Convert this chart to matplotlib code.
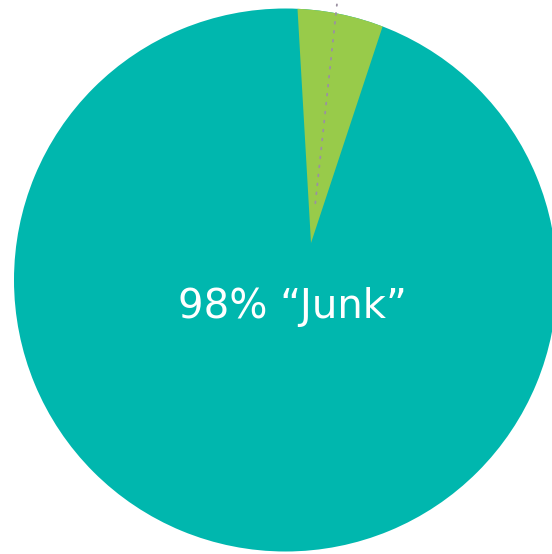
import matplotlib
matplotlib.use("Agg")
import matplotlib.pyplot as plt
import numpy as np

# Data
categories = ["Junk", "Other"]
label_pct = [98, 2]
# visible wedge share (as drawn, measured from the wedge apex)
wedge_share = [6.0, 94.0]
teal = "#00b7ae"
green = "#98cb4a"
dot_color = "#9b90a2"

W, H = 552, 554
fig = plt.figure(figsize=(W / 100, H / 100), dpi=100)
ax = fig.add_axes([0, 0, 1, 1])

# main circle
cx, cy, R = 285.5, H - 280.0, 271.5
main, _ = ax.pie([sum(label_pct)], colors=[teal], center=(cx, cy), radius=R,
                 startangle=90, wedgeprops=dict(linewidth=0))
clip_patch = main[0]

# green wedge (apex offset from circle centre), clipped to the circle
ax_, ay_ = 311, H - 243
start = 71.7
wedges, _ = ax.pie(wedge_share, colors=[green, "none"], center=(ax_, ay_), radius=420,
                   startangle=start, counterclock=True, wedgeprops=dict(linewidth=0))
for w in wedges:
    w.set_clip_on(True)
    w.set_clip_path(clip_patch)

# dotted line inside the green wedge
ang = np.deg2rad(83.8)
d0, d1 = 40, 240
ax.plot([ax_ + d0 * np.cos(ang), ax_ + d1 * np.cos(ang)],
        [ay_ + d0 * np.sin(ang), ay_ + d1 * np.sin(ang)],
        linestyle=(0, (1, 4)), color=dot_color, lw=1.3, dash_capstyle="round")

ax.text(292.5, H - 318, f"{label_pct[0]}% \u201c{categories[0]}\u201d", color="white",
        fontsize=29, family=["DejaVu Sans"], ha="center", va="baseline")

ax.set_xlim(0, W)
ax.set_ylim(0, H)
ax.set_aspect("equal")
ax.axis("off")
fig.savefig("out.png", dpi=100, facecolor="white")
